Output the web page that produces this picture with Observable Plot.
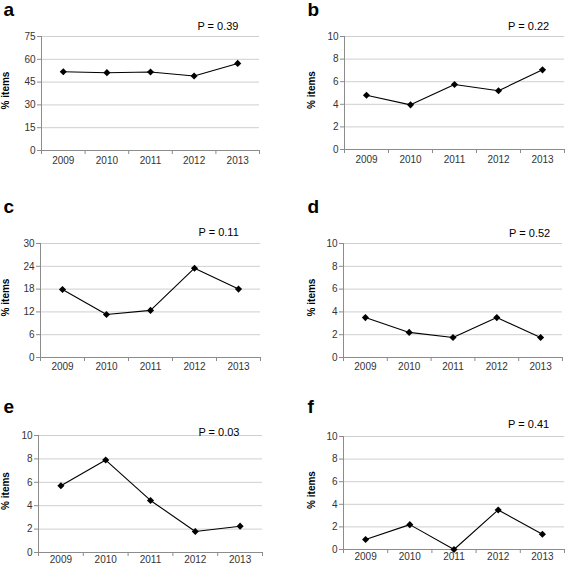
<!DOCTYPE html>
<html><head><meta charset="utf-8">
<script src="https://cdn.jsdelivr.net/npm/d3@7"></script>
<script src="https://cdn.jsdelivr.net/npm/@observablehq/plot@0.6"></script>
<style>
body{margin:0;background:#fff;font-family:"Liberation Sans",Arial,sans-serif;}
#wrap{position:relative;width:565px;height:565px;overflow:hidden;background:#fff;}
#wrap svg{position:absolute;}
</style></head><body><div id="wrap"></div>
<script>
// ---- data ----
const years = [2009, 2010, 2011, 2012, 2013];
const panelLetters = ["a", "b", "c", "d", "e", "f"];
const pLabels = ["P = 0.39", "P = 0.22", "P = 0.11", "P = 0.52", "P = 0.03", "P = 0.41"];
const yLabel = "% items";
const valuesA = [51.8, 51.2, 51.6, 49.0, 57.3];
const valuesB = [4.8, 3.95, 5.75, 5.2, 7.05];
const valuesC = [17.9, 11.3, 12.4, 23.5, 18.0];
const valuesD = [3.5, 2.2, 1.75, 3.5, 1.75];
const valuesE = [5.7, 7.9, 4.45, 1.8, 2.25];
const valuesF = [0.88, 2.2, 0.0, 3.5, 1.35];
const ticksA = [0, 15, 30, 45, 60, 75];
const ticksC = [0, 6, 12, 18, 24, 30];
const ticksTen = [0, 2, 4, 6, 8, 10];

// ---- layout (pixels) ----
const layout = [
  {left: 0,   top: 0,   w: 282, h: 180, ml: 41, mr: 23, mt: 36, mb: 30, xpad: 6, lx: 3,  ly: 15, yx: 5,  px: 238, py: 25.7},
  {left: 282, top: 0,   w: 283, h: 180, ml: 62, mr: 1,  mt: 36, mb: 31, xpad: 6, lx: 25, ly: 15, yx: 29, px: 266.7, py: 25.7},
  {left: 0,   top: 180, w: 282, h: 192, ml: 40, mr: 22, mt: 63, mb: 15, xpad: 5, lx: 3,  ly: 32, yx: 5,  px: 238.3, py: 52.3},
  {left: 282, top: 180, w: 283, h: 192, ml: 61, mr: 3,  mt: 63, mb: 15, xpad: 5, lx: 25, ly: 32, yx: 29, px: 267.7, py: 53.3},
  {left: 0,   top: 372, w: 282, h: 193, ml: 38, mr: 20, mt: 63, mb: 13, xpad: 3, lx: 3,  ly: 40, yx: 5,  px: 239, py: 60},
  {left: 282, top: 372, w: 283, h: 193, ml: 61, mr: 1,  mt: 64, mb: 16, xpad: 3, lx: 25, ly: 40, yx: 29, px: 266.7, py: 52}
];
const seriesList = [valuesA, valuesB, valuesC, valuesD, valuesE, valuesF];
const tickList = [ticksA, ticksTen, ticksC, ticksTen, ticksTen, ticksTen];

const axisGray = "#8c8c8c";
const gridGray = "#cfcfcf";
const labelGray = "#333";
const font = "'Liberation Sans', Arial, Helvetica, sans-serif";

function panel(cfg, values, ticks, letter, pLabel) {
  const data = years.map((year, i) => ({year, value: values[i]}));
  const edges = [years[0] - 0.5, ...years.map(y => y + 0.5)];
  const svg = Plot.plot({
    width: cfg.w, height: cfg.h,
    marginLeft: cfg.ml, marginRight: cfg.mr, marginTop: cfg.mt, marginBottom: cfg.mb,
    style: {background: "transparent", overflow: "visible", fontFamily: font},
    x: {type: "linear", domain: [edges[0], edges[edges.length - 1]]},
    y: {domain: [0, ticks[ticks.length - 1]]},
    marks: [
      Plot.gridY(ticks.filter(t => t > 0), {stroke: gridGray, strokeOpacity: 1, strokeWidth: 1}),
      Plot.axisY(ticks, {tickSize: 4, tickPadding: 2, stroke: axisGray, fill: labelGray, fontSize: 10, label: null}),
      Plot.axisX(edges, {tickSize: 4, tickPadding: 0, tickFormat: () => "", stroke: axisGray, label: null}),
      Plot.axisX(years, {tickSize: 0, tickPadding: cfg.xpad, tickFormat: d => String(d), fill: labelGray, fontSize: 10, label: null}),
      Plot.ruleX([edges[0]], {stroke: axisGray}),
      Plot.ruleY([0], {stroke: axisGray}),
      Plot.line(data, {x: "year", y: "value", stroke: "#000", strokeWidth: 1.1}),
      Plot.dot(data, {x: "year", y: "value", symbol: "diamond2", r: 3.2, fill: "#000", stroke: "none"}),
      Plot.text([letter], {text: d => d, frameAnchor: "top-left", dx: cfg.lx - cfg.ml, dy: cfg.ly - cfg.mt,
        textAnchor: "start", lineAnchor: "bottom", fontSize: 19, fontWeight: "bold", fill: "#000"}),
      Plot.text([yLabel], {text: d => d, frameAnchor: "left", dx: cfg.yx - cfg.ml, dy: -3, rotate: -90,
        textAnchor: "middle", fontSize: 10, fontWeight: "bold", fill: "#000"}),
      Plot.text([pLabel], {text: d => d, frameAnchor: "top-left", dx: cfg.px - cfg.ml, dy: cfg.py - cfg.mt,
        textAnchor: "end", lineAnchor: "middle", fontSize: 11, fill: "#000"})
    ]
  });
  svg.style.left = cfg.left + "px";
  svg.style.top = cfg.top + "px";
  return svg;
}

const wrap = document.getElementById("wrap");
layout.forEach((cfg, i) => {
  wrap.appendChild(panel(cfg, seriesList[i], tickList[i], panelLetters[i], pLabels[i]));
});
</script>
</body></html>
